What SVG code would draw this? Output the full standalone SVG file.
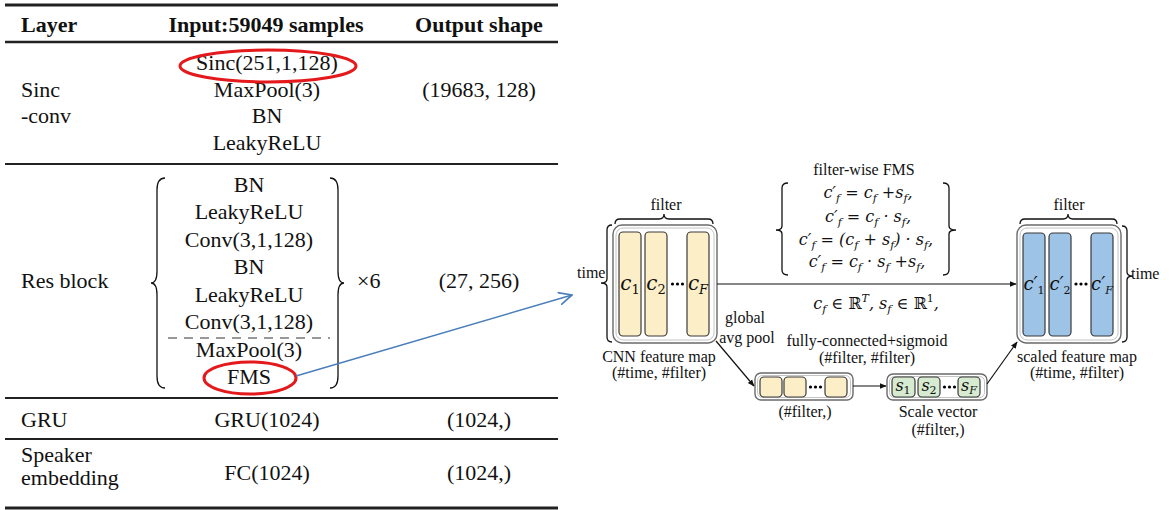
<svg xmlns="http://www.w3.org/2000/svg" width="1169" height="510" viewBox="0 0 1169 510">
<style>
.t{font-family:"Liberation Serif","Times New Roman",serif;font-size:22px;fill:#111}
.h{font-family:"Liberation Serif","Times New Roman",serif;font-size:22px;font-weight:bold;fill:#111}
.c{text-anchor:middle}
.d{font-family:"Liberation Serif","Times New Roman",serif;font-size:16px;fill:#111}
.m{font-family:"DejaVu Serif",serif;font-style:italic;font-size:16px;fill:#111}
.s{font-size:11px}
.cl{font-family:"DejaVu Serif",serif;font-style:italic;font-size:20px;fill:#111;text-anchor:middle}
.clp{font-size:18px}
.cs{font-size:13px;font-style:normal}
.csi{font-size:13px}
.cps{font-size:11px;font-style:normal}
.cpsi{font-size:11px}
.rule{stroke:#222}
.brk{fill:none;stroke:#111;stroke-width:1.3}
.outer{fill:#fff;stroke:#6a6a6a;stroke-width:1.4}
.inner{fill:none;stroke:#c4c4c4;stroke-width:1}
.col{stroke:#3a3a3a;stroke-width:1.2}
.y{fill:#fcefc8}
.b{fill:#9dc3e6}
.g{fill:#d7ebd0}
.red{fill:none;stroke:#e3191c;stroke-width:3}
.con{fill:none;stroke:#111;stroke-width:1.2}
</style>
<defs>
<marker id="ah" viewBox="0 0 10 10" refX="9" refY="5" markerWidth="7" markerHeight="7" markerUnits="userSpaceOnUse" orient="auto"><path d="M0,1 L10,5 L0,9 z" fill="#111"/></marker>
<marker id="ab" viewBox="0 0 10 10" refX="9.5" refY="5" markerWidth="14" markerHeight="14" markerUnits="userSpaceOnUse" orient="auto"><path d="M0,0.5 L9.5,5 L0,9.5" fill="none" stroke="#4a7ebb" stroke-width="1.2"/></marker>
</defs>
<rect width="1169" height="510" fill="#fff"/>

<g id="table">
<line class="rule" x1="5" y1="5" x2="558" y2="5" stroke-width="3"/>
<line class="rule" x1="5" y1="42" x2="558" y2="42" stroke-width="2.5"/>
<line class="rule" x1="5" y1="164" x2="558" y2="164" stroke-width="2"/>
<line class="rule" x1="5" y1="398" x2="558" y2="398" stroke-width="2"/>
<line class="rule" x1="5" y1="439" x2="558" y2="439" stroke-width="2"/>
<line class="rule" x1="5" y1="508" x2="558" y2="508" stroke-width="3"/>
<text class="h" x="21" y="32">Layer</text>
<text class="h c" x="266" y="32">Input:59049 samples</text>
<text class="h c" x="479" y="32">Output shape</text>

<text class="t" x="21" y="97">Sinc</text>
<text class="t" x="21" y="123">-conv</text>
<text class="t c" x="267" y="70">Sinc(251,1,128)</text>
<text class="t c" x="267" y="97">MaxPool(3)</text>
<text class="t c" x="267" y="123">BN</text>
<text class="t c" x="267" y="150">LeakyReLU</text>
<text class="t c" x="479" y="97">(19683, 128)</text>
<ellipse class="red" cx="268" cy="66" rx="88" ry="16"/>

<text class="t" x="21" y="288">Res block</text>
<path class="brk" stroke-width="2" d="M165 178 Q157 178 157 190 L157 271 Q157 283 151 283 Q157 283 157 295 L157 376 Q157 388 165 388"/>
<path class="brk" stroke-width="2" d="M330 178 Q338 178 338 190 L338 271 Q338 283 344 283 Q338 283 338 295 L338 376 Q338 388 330 388"/>
<text class="t c" x="249" y="192">BN</text>
<text class="t c" x="249" y="219">LeakyReLU</text>
<text class="t c" x="249" y="247">Conv(3,1,128)</text>
<text class="t c" x="249" y="274">BN</text>
<text class="t c" x="249" y="302">LeakyReLU</text>
<text class="t c" x="249" y="329">Conv(3,1,128)</text>
<line x1="168" y1="338" x2="330" y2="338" stroke="#333" stroke-width="1.2" stroke-dasharray="9,7"/>
<text class="t c" x="249" y="357">MaxPool(3)</text>
<text class="t c" x="249" y="384">FMS</text>
<ellipse class="red" cx="250" cy="378" rx="46" ry="16"/>
<text class="t" x="357" y="288">×6</text>
<text class="t c" x="479" y="288">(27, 256)</text>

<text class="t" x="21" y="427">GRU</text>
<text class="t c" x="267" y="427">GRU(1024)</text>
<text class="t c" x="479" y="427">(1024,)</text>

<text class="t" x="21" y="462">Speaker</text>
<text class="t" x="21" y="485">embedding</text>
<text class="t c" x="267" y="480">FC(1024)</text>
<text class="t c" x="479" y="480">(1024,)</text>
</g>

<g id="cnn-feature-map">
<text class="d c" x="666" y="210">filter</text>
<path class="brk" d="M615 224 Q615 219 620 219 L659 219 Q664 219 664 214 Q664 219 669 219 L708 219 Q713 219 713 224"/>
<text class="d" x="577" y="278">time</text>
<path class="brk" d="M612 225 Q607 225 607 230 L607 279 Q607 283 601 283 Q607 283 607 287 L607 337 Q607 342 612 342"/>
<rect class="outer" x="613" y="225" width="104" height="118" rx="9"/>
<rect class="inner" x="616" y="228" width="98" height="112" rx="7"/>
<rect class="col y" x="619" y="232" width="22" height="104" rx="4"/>
<rect class="col y" x="645" y="232" width="22" height="104" rx="4"/>
<rect class="col y" x="687" y="232" width="22" height="104" rx="4"/>
<circle cx="672.5" cy="284" r="1.6"/><circle cx="677.5" cy="284" r="1.6"/><circle cx="682.5" cy="284" r="1.6"/>
<text class="cl" x="630" y="290">c<tspan class="cs" dy="4">1</tspan></text>
<text class="cl" x="656" y="290">c<tspan class="cs" dy="4">2</tspan></text>
<text class="cl" x="698" y="290">c<tspan class="csi" dy="4">F</tspan></text>
<text class="d c" x="659" y="362">CNN feature map</text>
<text class="d c" x="659" y="378">(#time, #filter)</text>
</g>

<g id="pool-label">
<text class="d c" x="745" y="323">global</text>
<text class="d c" x="747" y="343">avg pool</text>
</g>

<g id="pooled-vector">
<rect class="outer" x="755" y="373" width="98" height="27" rx="6"/>
<rect class="inner" x="757.5" y="375.5" width="93" height="22" rx="5"/>
<rect class="col y" x="760" y="377" width="22" height="20" rx="4"/>
<rect class="col y" x="784" y="377" width="22" height="20" rx="4"/>
<rect class="col y" x="825" y="377" width="22" height="20" rx="4"/>
<circle cx="810.5" cy="387" r="1.6"/><circle cx="815.5" cy="387" r="1.6"/><circle cx="820.5" cy="387" r="1.6"/>
<text class="d c" x="805" y="417">(#filter,)</text>
</g>

<g id="fc-label">
<text class="d c" x="867" y="346">fully-connected+sigmoid</text>
<text class="d c" x="867" y="363">(#filter, #filter)</text>
</g>

<g id="scale-vector">
<rect class="outer" x="887" y="374" width="100" height="26" rx="6"/>
<rect class="inner" x="889.5" y="376.5" width="95" height="21" rx="5"/>
<rect class="col g" x="892" y="377" width="23" height="20" rx="4"/>
<rect class="col g" x="918" y="377" width="22" height="20" rx="4"/>
<rect class="col g" x="958" y="377" width="22" height="20" rx="4"/>
<circle cx="944.5" cy="387" r="1.6"/><circle cx="949.5" cy="387" r="1.6"/><circle cx="954.5" cy="387" r="1.6"/>
<text class="m c" x="903" y="391">s<tspan class="s" font-style="normal" dy="3">1</tspan></text>
<text class="m c" x="929" y="391">s<tspan class="s" font-style="normal" dy="3">2</tspan></text>
<text class="m c" x="969" y="391">s<tspan class="s" dy="3">F</tspan></text>
<text class="d c" x="938" y="417">Scale vector</text>
<text class="d c" x="938" y="435">(#filter,)</text>
</g>

<g id="scaled-feature-map">
<text class="d c" x="1069" y="210">filter</text>
<path class="brk" d="M1020 224 Q1020 219 1025 219 L1063 219 Q1068 219 1068 214 Q1068 219 1073 219 L1112 219 Q1117 219 1117 224"/>
<path class="brk" d="M1122 226 Q1127 226 1127 231 L1127 272 Q1127 276 1133 276 Q1127 276 1127 280 L1127 337 Q1127 342 1122 342"/>
<text class="d" x="1131" y="279">time</text>
<rect class="outer" x="1017" y="225" width="104" height="118" rx="9"/>
<rect class="inner" x="1020" y="228" width="98" height="112" rx="7"/>
<rect class="col b" x="1023" y="233" width="22" height="103" rx="4"/>
<rect class="col b" x="1049" y="233" width="22" height="103" rx="4"/>
<rect class="col b" x="1091" y="233" width="22" height="103" rx="4"/>
<circle cx="1076" cy="284" r="1.6"/><circle cx="1081" cy="284" r="1.6"/><circle cx="1086" cy="284" r="1.6"/>
<text class="cl clp" x="1034" y="290">c′<tspan class="cps" dy="4">1</tspan></text>
<text class="cl clp" x="1060" y="290">c′<tspan class="cps" dy="4">2</tspan></text>
<text class="cl clp" x="1102" y="290">c′<tspan class="cpsi" dy="4">F</tspan></text>
<text class="d c" x="1077" y="362">scaled feature map</text>
<text class="d c" x="1077" y="378">(#time, #filter)</text>
</g>

<g id="fms-equations">
<text class="d c" x="864" y="175">filter-wise FMS</text>
<path class="brk" d="M788 183 Q782 183 782 188 L782 226 Q782 230 776 230 Q782 230 782 234 L782 270 Q782 275 788 275"/>
<path class="brk" d="M943 183 Q949 183 949 188 L949 226 Q949 230 956 230 Q949 230 949 234 L949 270 Q949 275 943 275"/>
<text class="m c" x="868" y="198">c′<tspan class="s" dy="4">f</tspan><tspan dy="-4"> = c</tspan><tspan class="s" dy="4">f</tspan><tspan dy="-4"> +s</tspan><tspan class="s" dy="4">f</tspan><tspan dy="-4">,</tspan></text>
<text class="m c" x="868" y="222">c′<tspan class="s" dy="4">f</tspan><tspan dy="-4"> = c</tspan><tspan class="s" dy="4">f</tspan><tspan dy="-4"> · s</tspan><tspan class="s" dy="4">f</tspan><tspan dy="-4">,</tspan></text>
<text class="m c" x="866" y="245">c′<tspan class="s" dy="4">f</tspan><tspan dy="-4"> = (c</tspan><tspan class="s" dy="4">f</tspan><tspan dy="-4"> + s</tspan><tspan class="s" dy="4">f</tspan><tspan dy="-4">) · s</tspan><tspan class="s" dy="4">f</tspan><tspan dy="-4">,</tspan></text>
<text class="m c" x="867" y="267">c′<tspan class="s" dy="4">f</tspan><tspan dy="-4"> = c</tspan><tspan class="s" dy="4">f</tspan><tspan dy="-4"> · s</tspan><tspan class="s" dy="4">f</tspan><tspan dy="-4"> +s</tspan><tspan class="s" dy="4">f</tspan><tspan dy="-4">,</tspan></text>
<text class="m c" x="876" y="309">c<tspan class="s" dy="4">f</tspan><tspan dy="-4"> ∈ </tspan><tspan font-style="normal">ℝ</tspan><tspan class="s" dy="-7">T</tspan><tspan dy="7">, s</tspan><tspan class="s" dy="4">f</tspan><tspan dy="-4"> ∈ </tspan><tspan font-style="normal">ℝ</tspan><tspan class="s" font-style="normal" dy="-7">1</tspan><tspan dy="7">,</tspan></text>
</g>

<g id="connectors">
<line class="con" x1="717" y1="284" x2="1016" y2="284" marker-end="url(#ah)"/>
<line class="con" x1="716" y1="341" x2="754" y2="386" marker-end="url(#ah)"/>
<line class="con" x1="853" y1="386" x2="886" y2="386" marker-end="url(#ah)"/>
<line class="con" x1="987" y1="384" x2="1017" y2="342" marker-end="url(#ah)"/>
<line x1="296" y1="376" x2="572" y2="295" stroke="#4a7ebb" stroke-width="1.5" marker-end="url(#ab)"/>
</g>
</svg>
